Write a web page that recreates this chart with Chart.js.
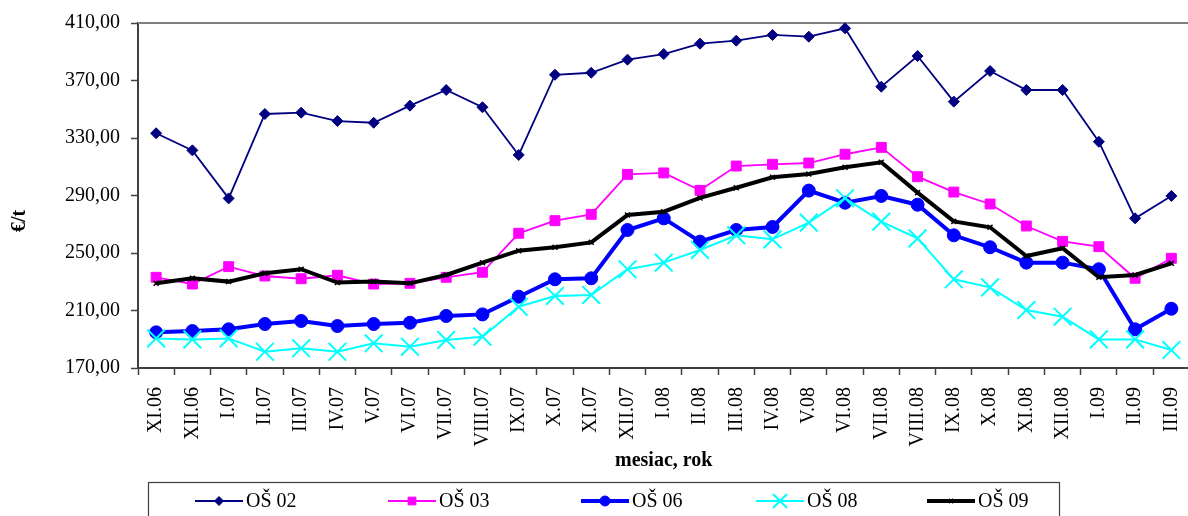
<!DOCTYPE html>
<html>
<head>
<meta charset="utf-8">
<script src="https://cdn.jsdelivr.net/npm/chart.js@4.4.0/dist/chart.umd.min.js"></script>
<style>
  html, body { margin: 0; padding: 0; background: #fff; overflow: hidden; }
  #wrap { position: relative; width: 1204px; height: 516px; }
</style>
</head>
<body>
<div id="wrap"><canvas id="c"></canvas></div>
<script>
const categories = ['XI.06','XII.06','I.07','II.07','III.07','IV.07','V.07','VI.07','VII.07','VIII.07','IX.07','X.07','XI.07','XII.07','I.08','II.08','III.08','IV.08','V.08','VI.08','VII.08','VIII.08','IX.08','X.08','XI.08','XII.08','I.09','II.09','III.09'];
const os02 = [333.3, 321.4, 288.0, 346.7, 347.6, 341.8, 340.6, 352.5, 363.4, 351.4, 318.2, 374.0, 375.4, 384.5, 388.4, 395.6, 397.7, 401.7, 400.5, 406.3, 365.7, 387.0, 355.3, 376.6, 363.4, 363.4, 327.4, 274.1, 289.7];
const os03 = [233.1, 228.4, 240.5, 234.0, 232.1, 234.5, 228.4, 228.9, 233.1, 236.6, 263.7, 272.5, 276.9, 304.7, 305.7, 293.6, 310.5, 311.7, 312.6, 318.7, 323.5, 303.1, 292.4, 284.1, 268.8, 258.1, 254.4, 232.4, 246.3];
const os06 = [194.8, 195.7, 196.9, 200.6, 202.7, 199.2, 200.6, 201.5, 206.2, 207.3, 219.6, 231.7, 232.4, 266.0, 274.1, 257.9, 266.0, 268.1, 293.4, 285.0, 289.7, 283.6, 262.3, 254.0, 243.3, 243.3, 238.7, 196.9, 211.2];
const os08 = [190.6, 189.9, 190.6, 181.3, 183.7, 181.3, 187.2, 184.8, 189.5, 191.8, 212.6, 220.1, 220.8, 238.7, 243.3, 252.1, 262.3, 259.5, 271.1, 288.1, 271.8, 260.2, 231.7, 226.1, 210.3, 205.7, 189.9, 189.9, 182.5];
const os09 = [228.9, 232.4, 230.1, 235.9, 238.7, 229.4, 230.1, 228.9, 234.7, 243.3, 251.6, 254.0, 257.4, 276.4, 278.7, 288.3, 295.4, 302.7, 304.9, 309.6, 313.1, 292.0, 272.0, 267.9, 247.9, 253.3, 233.1, 234.7, 242.8];
const seriesNames = ['OŠ 02', 'OŠ 03', 'OŠ 06', 'OŠ 08', 'OŠ 09'];
const yMin = 170, yMax = 410, yStep = 40;
const xTitle = 'mesiac, rok';
const yTitle = '€/t';

const FONT = "'Liberation Serif', 'Times New Roman', serif";

const styles = [
  { color: '#000080', width: 1.8, pointStyle: 'rectRot', radius: 5.5, pbw: 1, legendR: 4.5 },
  { color: '#FF00FF', width: 1.8, pointStyle: 'rect', radius: 7, pbw: 1, legendR: 5.5 },
  { color: '#0000FF', width: 4, pointStyle: 'circle', radius: 6.5, pbw: 1, legendR: 5 },
  { color: '#00FFFF', width: 2, pointStyle: 'crossRot', radius: 12.5, pbw: 2, legendR: 10 },
  { color: '#000000', width: 4, pointStyle: 'crossRot', radius: 3.5, pbw: 1.5, legendR: 3 }
];
const seriesData = [os02, os03, os06, os08, os09];

const datasets = seriesData.map((d, i) => ({
  label: seriesNames[i],
  data: d,
  borderColor: styles[i].color,
  backgroundColor: styles[i].color,
  borderWidth: styles[i].width,
  pointStyle: styles[i].pointStyle,
  pointRadius: styles[i].radius,
  pointHoverRadius: styles[i].radius,
  pointBorderWidth: styles[i].pbw,
  pointBorderColor: styles[i].color,
  pointBackgroundColor: styles[i].color,
  tension: 0,
  order: 5 - i,
  clip: false
}));

const framePlugin = {
  id: 'frame',
  beforeDatasetsDraw(chart) {
    const { ctx, chartArea: a } = chart;
    ctx.save();
    ctx.strokeStyle = '#808080';
    ctx.lineWidth = 2;
    ctx.beginPath();
    ctx.moveTo(a.left, a.top);
    ctx.lineTo(a.right, a.top);
    ctx.lineTo(a.right, a.bottom);
    ctx.stroke();
    ctx.restore();
  },
  afterDraw(chart) {
    const { ctx } = chart;
    // y axis title
    ctx.save();
    ctx.translate(20, 221);
    ctx.rotate(-Math.PI / 2);
    ctx.font = "bold 20px " + FONT;
    ctx.fillStyle = '#000';
    ctx.textAlign = 'center';
    ctx.textBaseline = 'middle';
    ctx.fillText(yTitle, 0, 0);
    ctx.restore();

    // legend
    ctx.save();
    ctx.strokeStyle = '#404040';
    ctx.lineWidth = 1.2;
    ctx.strokeRect(148.5, 482.5, 911, 60);
    const starts = [195, 388, 581, 756, 927];
    const lineLen = 48;
    const ly = 501;
    chart.data.datasets.forEach((ds, i) => {
      const st = styles[i];
      const x0 = starts[i];
      ctx.strokeStyle = st.color;
      ctx.lineWidth = st.width;
      ctx.beginPath();
      ctx.moveTo(x0, ly);
      ctx.lineTo(x0 + lineLen, ly);
      ctx.stroke();
      ctx.fillStyle = st.color;
      ctx.strokeStyle = st.color;
      ctx.lineWidth = st.pbw;
      Chart.helpers.drawPoint(ctx, { pointStyle: st.pointStyle, radius: st.legendR, rotation: 0, borderWidth: st.pbw }, x0 + lineLen / 2, ly);
      ctx.fillStyle = '#000';
      ctx.font = "20px " + FONT;
      ctx.textAlign = 'left';
      ctx.textBaseline = 'middle';
      ctx.fillText(ds.label, x0 + lineLen + 3, ly + 1);
    });
    ctx.restore();
  }
};

new Chart(document.getElementById('c'), {
  type: 'line',
  data: { labels: categories, datasets },
  plugins: [framePlugin],
  options: {
    responsive: true,
    maintainAspectRatio: false,
    animation: false,
    layout: { padding: { top: 23, left: 0, right: 0, bottom: 0 } },
    plugins: {
      legend: { display: false },
      tooltip: { enabled: false },
      title: { display: false }
    },
    scales: {
      x: {
        type: 'category',
        offset: true,
        grid: {
          display: true,
          offset: true,
          drawOnChartArea: false,
          drawTicks: true,
          tickLength: 7,
          tickColor: '#404040',
          tickWidth: 1.5
        },
        border: { display: true, color: '#404040', width: 2 },
        ticks: {
          autoSkip: false,
          minRotation: 90,
          maxRotation: 90,
          padding: 12,
          color: '#000',
          font: { family: FONT, size: 20 }
        },
        title: {
          display: true,
          text: xTitle,
          color: '#000',
          font: { family: FONT, size: 20, weight: 'bold' },
          padding: { top: 0, bottom: 43 }
        },
        afterFit(scale) {
          scale.height = 148;
          scale.paddingLeft = 0;
          scale.paddingRight = 0;
        }
      },
      y: {
        min: yMin,
        max: yMax,
        grid: {
          display: true,
          drawOnChartArea: false,
          drawTicks: true,
          tickLength: 7,
          tickColor: '#404040',
          tickWidth: 1.5
        },
        border: { display: true, color: '#404040', width: 2 },
        ticks: {
          stepSize: yStep,
          padding: 11,
          color: '#000',
          font: { family: FONT, size: 20 },
          callback: (v) => Number(v).toFixed(2).replace('.', ',')
        },
        afterFit(scale) {
          scale.width = 138;
        }
      }
    }
  }
});
</script>
</body>
</html>
